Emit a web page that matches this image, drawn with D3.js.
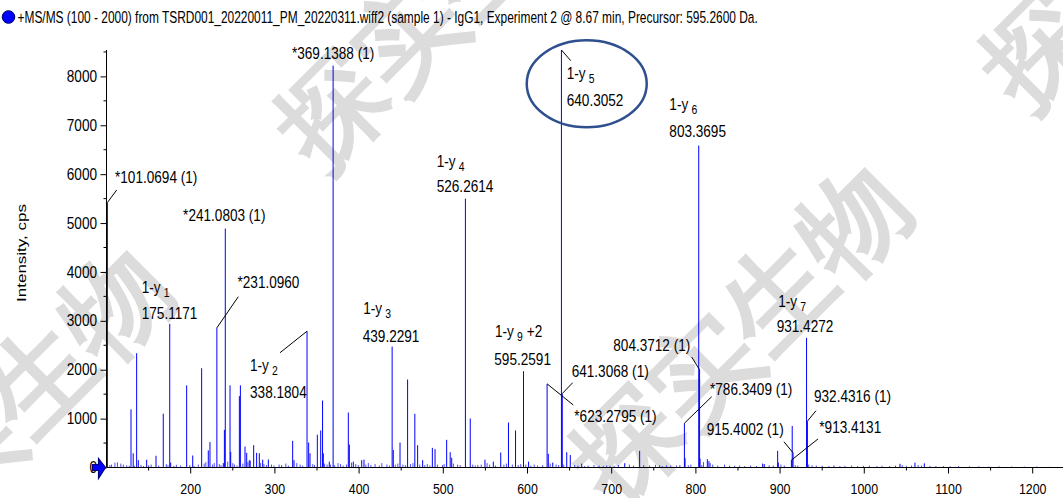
<!DOCTYPE html>
<html>
<head>
<meta charset="utf-8">
<script src="https://cdn.jsdelivr.net/npm/d3@7"></script>
<style>
  html, body { margin: 0; padding: 0; background: #fff; }
  svg { display: block; }
  text { font-family: "Liberation Sans", Arial, sans-serif; }
</style>
</head>
<body>
<svg id="chart" width="1063" height="498"></svg>
<script>
// ---------------- DATA ----------------
const titleText = "+MS/MS (100 - 2000) from TSRD001_20220011_PM_20220311.wiff2 (sample 1) - IgG1, Experiment 2 @ 8.67 min, Precursor: 595.2600 Da.";
const yAxisTitle = "Intensity, cps";
const xTickValues = [200, 300, 400, 500, 600, 700, 800, 900, 1000, 1100, 1200];
const xMinorTicks = [150, 250, 350, 450, 550, 650, 750, 850, 950, 1050, 1150];
const yTickValues = [0, 1000, 2000, 3000, 4000, 5000, 6000, 7000, 8000];
const yMinorTicks = [500, 1500, 2500, 3500, 4500, 5500, 6500, 7500, 8500];

// main peaks (m/z, intensity cps)
const peakMz = [101.0694, 129.1, 131.7, 135.8, 137.8, 147.7, 158.8, 167.4, 175.1171, 176.2, 195.2, 202.4,
  213.0, 220.9, 222.9, 231.0960, 238.7, 240.0, 241.0803, 246.7, 247.5, 257.8, 259.0, 264.5, 266.5, 269.6,
  274.8, 278.3, 281.5, 285.5, 292.2, 321.1, 322.7, 338.1804, 340.1, 341.7, 350.4, 354.4, 356.6, 357.5,
  364.6, 369.1388, 387.2, 388.4, 393.1, 403.1, 405.8, 439.2291, 440.6, 448.6, 457.6, 466.2, 469.5, 475.5,
  487.0, 490.2, 504.0, 508.2, 510.0, 526.2614, 532.0, 549.5, 559.4, 568.2, 577.4, 585.8, 595.2591, 601.3,
  623.2795, 624.7, 630.0, 640.3052, 641.3068, 646.6, 650.8, 664.4, 715.5, 733.2, 786.3409, 787.1, 803.3695,
  804.3712, 804.9, 813.6, 815.5, 879.3, 881.2, 897.1, 897.9, 913.4131, 914.4, 915.4002, 931.4272, 932.4316,
  1042.4, 1060.2, 1071.3];
const peakIntensity = [5420, 1190, 290, 2338, 150, 160, 240, 1100, 2939, 100, 1680, 245,
  2030, 350, 520, 2857, 90, 770, 4888, 1680, 320, 1460, 1680, 430, 300, 150,
  456, 300, 290, 160, 165, 545, 150, 2788, 511, 290, 670, 757, 1370, 290,
  120, 8221, 1125, 470, 120, 150, 160, 2474, 360, 511, 1800, 1098, 456, 150,
  402, 375, 566, 313, 200, 5500, 1002, 160, 120, 307, 920, 757, 1970, 120,
  1711, 280, 100, 8540, 1513, 313, 255, 80, 88, 340, 906, 190, 6585,
  2000, 180, 170, 130, 80, 70, 340, 100, 150, 850, 300, 2652, 947,
  75, 100, 85];

// baseline noise peaks
const noiseMz = [104, 106, 110, 113, 117, 120, 124, 127, 133, 141, 144, 150, 153, 162, 171, 173, 180, 183, 188,
  199, 204, 209, 216, 218, 226, 228, 234, 236, 244, 250, 252, 255, 262, 268, 271, 283, 287, 290, 296, 299,
  305, 308, 313, 316, 326, 330, 333, 345, 347, 359, 362, 366, 371, 375, 378, 381, 385, 391, 396, 399, 408,
  411, 414, 419, 424, 427, 433, 436, 443, 446, 452, 455, 461, 464, 472, 478, 481, 484, 493, 499, 501, 512,
  517, 520, 535, 538, 541, 545, 552, 555, 562, 572, 575, 582, 589, 592, 598, 604, 608, 612, 618, 627, 634,
  637, 643, 656, 660, 668, 672, 679, 685, 690, 694, 698, 703, 708, 721, 726, 738, 745, 752, 757, 760, 765,
  770, 777, 781, 791, 794, 807, 809, 817, 820, 826, 834, 840, 846, 852, 858, 865, 872, 887, 892, 901, 905,
  918, 921, 934, 938, 943, 950, 958, 964, 971, 977, 985, 992, 999, 1006, 1015, 1021, 1030, 1037, 1045,
  1050, 1056, 1064, 1068, 1078, 1085, 1094, 1102, 1112, 1125, 1136, 1148, 1160, 1175, 1190, 1205, 1220];
const noiseIntensity = [50, 60, 100, 105, 80, 60, 45, 35, 40, 50, 30, 45, 60, 40, 70, 45, 35, 55, 40,
  50, 30, 60, 80, 110, 60, 90, 70, 50, 120, 90, 60, 40, 80, 110, 140, 90, 70, 50, 60, 40,
  60, 50, 80, 40, 90, 60, 40, 70, 50, 80, 60, 60, 50, 90, 70, 40, 60, 100, 70, 50, 60,
  90, 50, 70, 40, 90, 60, 40, 60, 80, 60, 50, 70, 90, 60, 50, 70, 40, 60, 50, 70, 80,
  60, 50, 60, 40, 50, 60, 90, 60, 40, 60, 80, 60, 50, 70, 60, 40, 60, 40, 50, 80, 60,
  50, 60, 50, 40, 30, 40, 50, 40, 30, 40, 35, 35, 50, 60, 40, 50, 40, 55, 50, 30, 45,
  35, 40, 50, 45, 60, 50, 110, 90, 60, 40, 60, 40, 35, 40, 30, 40, 30, 45, 40, 60, 40,
  50, 40, 60, 45, 40, 35, 30, 45, 30, 35, 40, 30, 35, 40, 30, 35, 30, 40, 50,
  35, 40, 50, 40, 35, 30, 30, 25, 30, 25, 25, 20, 25, 20, 20, 20, 15];

// annotations
const annotMz = [101.0694, 175.1171, 241.0803, 231.0960, 338.1804, 369.1388, 439.2291, 526.2614, 595.2591,
  623.2795, 640.3052, 641.3068, 786.3409, 803.3695, 804.3712, 913.4131, 915.4002, 931.4272, 932.4316];
const annotIntensity = [5420, 2939, 4888, 2857, 2788, 8221, 2474, 5500, 1970,
  1711, 8540, 1513, 906, 6585, 2000, 150, 300, 2652, 947];
const annotIon = [null, "1", null, null, "2", null, "3", "4", "9", null, "5", null, null, "6", null, null, null, "7", null];
const annotCharge = [null, null, null, null, null, null, null, null, "+2", null, null, null, null, null, null, null, null, null, null];
const annotText = ["*101.0694 (1)", "175.1171", "*241.0803 (1)", "*231.0960", "338.1804", "*369.1388 (1)", "439.2291",
  "526.2614", "595.2591", "*623.2795 (1)", "640.3052", "641.3068 (1)", "*786.3409 (1)", "803.3695",
  "804.3712 (1)", "*913.4131", "915.4002 (1)", "931.4272", "932.4316 (1)"];

// ---------------- LAYOUT (pixel offsets from each annotated peak top) ----------------
// [textDx, textDy, anchor, ionLineDx, ionLineDy, leaderDx, leaderDy]
const annotLayout = [
  [7.6, -19.5, "start", null, null, 9.3, -12.5],
  [-28, -4.8, "start", -28, -31.3, null, null],
  [-1, -7.5, "middle", null, null, null, null],
  [20.6, -39.8, "start", null, null, 21.4, -31.1],
  [-57, 67.1, "start", -57, 39.5, -27, 21.5],
  [0, -6.3, "middle", null, null, null, null],
  [-29.4, -4.9, "start", -29, -32.5, null, null],
  [-28.7, -6.3, "start", -28.7, -31.9, null, null],
  [-29.2, -5.9, "start", -28.5, -33.9, null, null],
  [27.2, 37.85, "start", null, null, 26.2, 21.15],
  [5.3, 55.7, "start", 5.3, 29.3, 9.3, 10.7],
  [9.4, -16.8, "start", null, null, 10.4, -10.8],
  [25.6, -28.2, "start", null, null, 27.3, -26.5],
  [-29.4, -8.9, "start", -29.4, -35.1, null, null],
  [-86.3, -19, "start", null, null, -7.9, -12.7],
  [27.9, -26.9, "start", null, null, 26.6, -21.2],
  [-86.4, -17.8, "start", null, null, -9.1, -11.1],
  [-29.9, -6.2, "start", -28.3, -31.2, null, null],
  [6.6, -18.9, "start", null, null, 8.6, -10.5]
];

// ---------------- DRAW ----------------
const svg = d3.select("#chart");
const W = 1063, H = 498;
const SX = 0.8;           // horizontal squeeze of the original rendering
const FS = 17;            // label font size

const x = d3.scaleLinear().domain([100, 1236]).range([106.5, 1063]);
const y = d3.scaleLinear().domain([0, 8540]).range([467.5, 50]);

// watermark
const wm = svg.append("g").attr("fill", "#dcdcdc")
  .style("font-family", "'Noto Sans CJK SC', sans-serif").style("font-size", "106px").style("font-weight", "bold");
[[616, 509], [-122, 592], [321, 174], [1026, 114]].forEach(p => {
  wm.append("text").attr("transform", `translate(${p[0]},${p[1]}) rotate(-45)`).text("探实生物");
});

// title
svg.append("circle").attr("cx", 8.5).attr("cy", 17).attr("r", 6.3)
  .attr("fill", "#0000ff").attr("stroke", "#000066").attr("stroke-width", 1);
const title = svg.append("text").attr("x", 0).attr("y", 0)
  .style("font-size", FS + "px").attr("fill", "#000").text(titleText);
const tw = title.node().getComputedTextLength();
title.attr("transform", `translate(17.5,23) scale(${741 / tw},1)`);

// peaks
const peaks = svg.append("g").attr("stroke", "#0000ff").attr("stroke-width", 1);
const noiseData = noiseMz.map((m, i) => ({ m, v: noiseIntensity[i] }));
const peakData = peakMz.map((m, i) => ({ m, v: peakIntensity[i] }));
peaks.selectAll("line.noise").data(noiseData).enter().append("line").attr("class", "noise")
  .attr("x1", d => x(d.m)).attr("x2", d => x(d.m))
  .attr("y1", y(0)).attr("y2", d => y(d.v)).attr("stroke-opacity", 0.7);
peaks.selectAll("line.peak").data(peakData).enter().append("line").attr("class", "peak")
  .attr("x1", d => x(d.m)).attr("x2", d => x(d.m))
  .attr("y1", y(0)).attr("y2", d => y(d.v));

// axes
const yAxis = d3.axisLeft(y).tickValues(yTickValues).tickFormat(d3.format("d")).tickSize(6).tickSizeOuter(0);
const gy = svg.append("g").attr("transform", "translate(106.5,0)").call(yAxis);
gy.select(".domain").attr("d", `M0,${y(0)}V50`);
gy.selectAll("text").style("font-size", "16px").attr("fill", "#000")
  .attr("x", -9.5 / 0.85).attr("transform", "scale(0.85,1)");
gy.selectAll(".minor").data(yMinorTicks).enter().append("line").attr("class", "minor")
  .attr("x1", -3).attr("x2", 0).attr("y1", d => y(d)).attr("y2", d => y(d)).attr("stroke", "#000");

const xAxis = d3.axisBottom(x).tickValues(xTickValues).tickFormat(d3.format("d")).tickSize(6).tickSizeOuter(0);
const gx = svg.append("g").attr("transform", `translate(0,${y(0)})`).call(xAxis);
gx.select(".domain").attr("d", `M${x(100)},0H${W}`);
gx.selectAll("text").style("font-size", "15.5px").attr("fill", "#000")
  .attr("y", 26.5).attr("dy", 0).attr("transform", "scale(0.8,1)");
gx.selectAll(".tick").each(function (d) {
  d3.select(this).attr("transform", null);
  d3.select(this).select("line").attr("x1", x(d)).attr("x2", x(d));
  d3.select(this).select("text").attr("x", x(d) / 0.8);
});
gx.selectAll(".minor").data(xMinorTicks).enter().append("line").attr("class", "minor")
  .attr("x1", d => x(d)).attr("x2", d => x(d)).attr("y1", 0).attr("y2", 3).attr("stroke", "#000");

// origin arrow marker
const ox = x(100), oy = y(0);
svg.append("path")
  .attr("d", `M${ox - 14},${oy - 3}H${ox - 8}V${oy - 9}L${ox - 1},${oy}L${ox - 8},${oy + 11}V${oy + 3}H${ox - 14}Z`)
  .attr("fill", "#0000ff").attr("stroke", "#000080").attr("stroke-width", 1.2);

// y axis title
svg.append("text").attr("transform", "translate(25.5,253) rotate(-90) scale(1,0.8)")
  .attr("text-anchor", "middle").style("font-size", "17px").attr("fill", "#000").text(yAxisTitle);

// annotations
const ag = svg.append("g").attr("fill", "#000");
function place(px, py, anchor) {
  return ag.append("text").attr("text-anchor", anchor)
    .attr("transform", `translate(${px},${py}) scale(${SX},1)`).style("font-size", FS + "px");
}
annotMz.forEach((m, i) => {
  const L = annotLayout[i];
  const px = x(m), py = y(annotIntensity[i]);
  place(px + L[0], py + L[1], L[2]).text(annotText[i]);
  if (annotIon[i]) {
    const t = place(px + L[3], py + L[4], "start");
    t.append("tspan").text("1-y");
    t.append("tspan").attr("dx", 4).attr("dy", 4).style("font-size", "13px").text(annotIon[i]);
    if (annotCharge[i]) t.append("tspan").attr("dx", 5).attr("dy", -4).text(annotCharge[i]);
  }
  if (L[5] !== null) {
    ag.append("line").attr("x1", px).attr("y1", py).attr("x2", px + L[5]).attr("y2", py + L[6])
      .attr("stroke", "#000").attr("stroke-width", 1);
  }
});

// circled highlight around the 1-y5 annotation
const hi = annotMz.indexOf(640.3052);
svg.append("ellipse").attr("cx", x(annotMz[hi]) + 25.3).attr("cy", y(annotIntensity[hi]) + 33.7)
  .attr("rx", 60).attr("ry", 43.5).attr("fill", "none").attr("stroke", "#2f4f8f").attr("stroke-width", 2.5);
</script>
</body>
</html>
